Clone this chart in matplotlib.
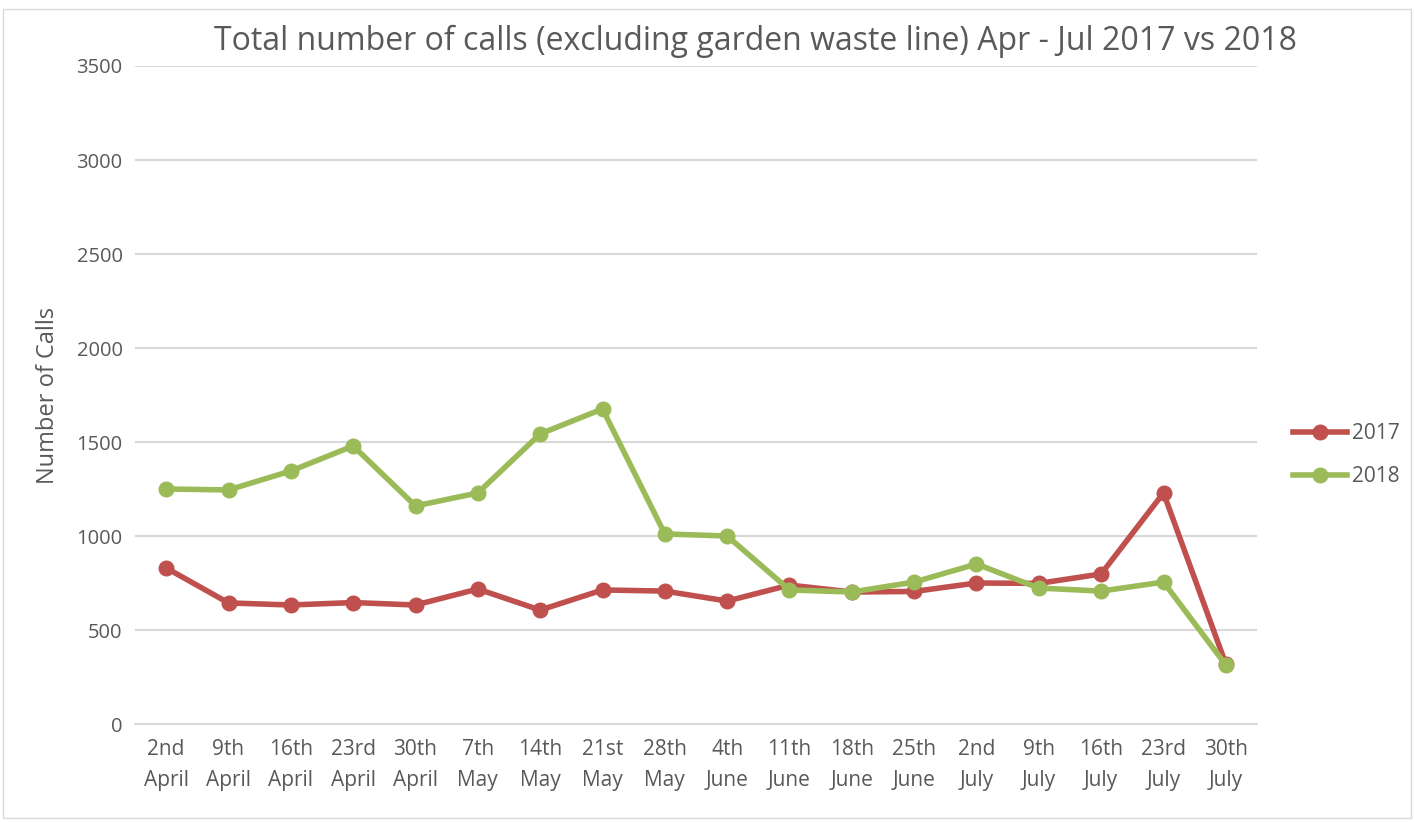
import matplotlib
matplotlib.use("Agg")
import matplotlib.pyplot as plt
from matplotlib.patches import Rectangle

categories = ["2nd\nApril", "9th\nApril", "16th\nApril", "23rd\nApril", "30th\nApril",
              "7th\nMay", "14th\nMay", "21st\nMay", "28th\nMay", "4th\nJune",
              "11th\nJune", "18th\nJune", "25th\nJune", "2nd\nJuly", "9th\nJuly",
              "16th\nJuly", "23rd\nJuly", "30th\nJuly"]
calls_2017 = [830, 644, 633, 646, 633, 718, 606, 713, 707, 654,
              739, 702, 705, 750, 748, 798, 1229, 319]
calls_2018 = [1250, 1245, 1346, 1479, 1160, 1229, 1543, 1676, 1011, 1000,
              713, 702, 755, 851, 723, 707, 755, 314]
yticks = [0, 500, 1000, 1500, 2000, 2500, 3000, 3500]

plt.rcParams['font.family'] = ['Open Sans', 'DejaVu Sans']
fig = plt.figure(figsize=(14.14, 8.22), dpi=100)
ax = fig.add_axes([135/1414, 1 - 724/822, (1257-135)/1414, (724-66)/822])

c17 = '#C0504D'
c18 = '#9BBB59'
x = list(range(len(categories)))
ax.plot(x, calls_2017, color=c17, lw=4, marker='o', ms=10.5, label='2017', zorder=3)
ax.plot(x, calls_2018, color=c18, lw=4, marker='o', ms=10.5, label='2018', zorder=4)

ax.set_xlim(-0.5, len(categories) - 0.5)
ax.set_ylim(0, 3500)
ax.set_yticks(yticks)
ax.set_yticklabels([str(v) for v in yticks])
ax.set_xticks(x)
ax.set_xticklabels(categories, linespacing=1.6)
ax.grid(axis='y', color='#D9D9D9', lw=1.5)
ax.set_axisbelow(True)
for s in ['top', 'right', 'left']:
    ax.spines[s].set_visible(False)
ax.spines['bottom'].set_color('#D9D9D9')
ax.spines['bottom'].set_linewidth(1.5)
ax.tick_params(axis='both', length=0, labelsize=14.5, colors='#595959', pad=9)
ax.tick_params(axis='x', labelsize=15, pad=11)
ax.set_ylabel('Number of Calls', fontsize=17, color='#595959', labelpad=12)

fig.suptitle('Total number of calls (excluding garden waste line) Apr - Jul 2017 vs 2018',
             x=755/1414, y=1 - 41/822, va='center', fontsize=23, color='#595959')

leg = fig.legend(loc='center left', bbox_to_anchor=(1274/1414, 1 - 455/822), frameon=False,
                 fontsize=15, labelcolor='#595959', handlelength=2.6, labelspacing=1.05, handletextpad=0.25)

fig.patches.append(Rectangle((3/1414, 0.005), 1 - 6/1414, 1 - 9/822 - 0.005, transform=fig.transFigure,
                             fill=False, edgecolor='#D9D9D9', lw=1))
fig.savefig('out.png', dpi=100)
